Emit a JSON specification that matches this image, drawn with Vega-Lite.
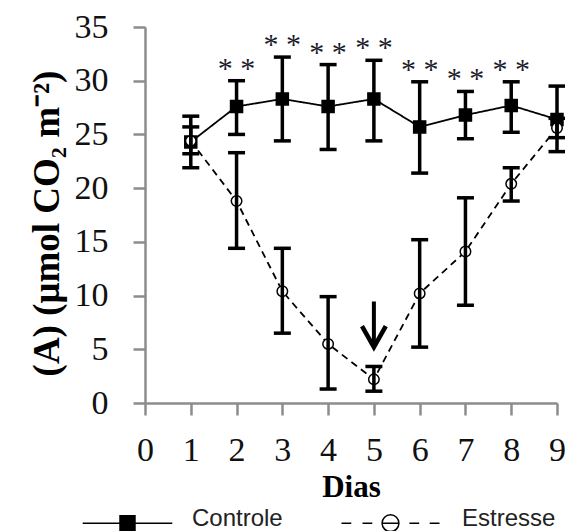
{
  "$schema": "https://vega.github.io/schema/vega-lite/v6.json",
  "width": 412,
  "height": 376,
  "autosize": {"type": "none"},
  "padding": {"left": 145, "top": 27, "right": 8, "bottom": 128},
  "background": "white",
  "config": {
    "view": {"stroke": null},
    "axis": {
      "grid": false,
      "domainColor": "#8c8c8c",
      "domainWidth": 2.5,
      "tickColor": "#8c8c8c",
      "tickWidth": 2.5,
      "tickSize": 12,
      "labelFont": "Liberation Serif",
      "labelFontSize": 34,
      "labelColor": "#111111",
      "labelFlush": false,
      "labelOverlap": false,
      "titleFont": "Liberation Serif",
      "titleFontWeight": "bold",
      "titleColor": "#000000"
    },
    "legend": {
      "title": null,
      "orient": "none",
      "padding": 0,
      "symbolSize": 196,
      "symbolStrokeWidth": 1.5,
      "symbolStrokeColor": "black",
      "symbolOpacity": 1,
      "labelFont": "Liberation Sans",
      "labelFontSize": 24,
      "labelColor": "#222222",
      "labelOffset": 52.5
    }
  },
  "datasets": {
    "medidas": [
      {"dia": 1, "serie": "Controle", "media": 24.3, "inf": 21.9, "sup": 26.7, "sig": ""},
      {"dia": 2, "serie": "Controle", "media": 27.6, "inf": 25.0, "sup": 30.0, "sig": "* *"},
      {"dia": 3, "serie": "Controle", "media": 28.3, "inf": 24.4, "sup": 32.2, "sig": "* *"},
      {"dia": 4, "serie": "Controle", "media": 27.6, "inf": 23.6, "sup": 31.5, "sig": "* *"},
      {"dia": 5, "serie": "Controle", "media": 28.3, "inf": 24.4, "sup": 31.9, "sig": "* *"},
      {"dia": 6, "serie": "Controle", "media": 25.7, "inf": 21.4, "sup": 29.9, "sig": "* *"},
      {"dia": 7, "serie": "Controle", "media": 26.8, "inf": 24.6, "sup": 29.0, "sig": "* *"},
      {"dia": 8, "serie": "Controle", "media": 27.7, "inf": 25.2, "sup": 29.9, "sig": "* *"},
      {"dia": 9, "serie": "Controle", "media": 26.4, "inf": 23.4, "sup": 29.5, "sig": ""},
      {"dia": 1, "serie": "Estresse", "media": 24.4, "inf": 23.2, "sup": 25.7, "sig": ""},
      {"dia": 2, "serie": "Estresse", "media": 18.8, "inf": 14.4, "sup": 23.3, "sig": ""},
      {"dia": 3, "serie": "Estresse", "media": 10.4, "inf": 6.5, "sup": 14.4, "sig": ""},
      {"dia": 4, "serie": "Estresse", "media": 5.5, "inf": 1.3, "sup": 9.9, "sig": ""},
      {"dia": 5, "serie": "Estresse", "media": 2.2, "inf": 1.1, "sup": 3.4, "sig": ""},
      {"dia": 6, "serie": "Estresse", "media": 10.2, "inf": 5.2, "sup": 15.2, "sig": ""},
      {"dia": 7, "serie": "Estresse", "media": 14.1, "inf": 9.1, "sup": 19.1, "sig": ""},
      {"dia": 8, "serie": "Estresse", "media": 20.4, "inf": 18.8, "sup": 21.9, "sig": ""},
      {"dia": 9, "serie": "Estresse", "media": 25.6, "inf": 24.7, "sup": 26.5, "sig": ""}
    ],
    "seta": [
      {"dia": 5, "topo": 9.45, "ponta": 5.2}
    ]
  },
  "data": {"name": "medidas"},
  "encoding": {
    "x": {
      "field": "dia",
      "type": "quantitative",
      "scale": {"domain": [0, 9], "nice": false},
      "axis": {
        "values": [0, 1, 2, 3, 4, 5, 6, 7, 8, 9],
        "labelPadding": 18,
        "title": "Dias",
        "titleFontSize": 31,
        "titleBaseline": "alphabetic",
        "titleY": 93
      }
    }
  },
  "layer": [
    {
      "mark": {"type": "line", "color": "black", "strokeWidth": 1.8},
      "encoding": {
        "y": {
          "field": "media",
          "type": "quantitative",
          "scale": {"domain": [0, 35], "nice": false},
          "axis": {
            "values": [0, 5, 10, 15, 20, 25, 30, 35],
            "labelPadding": 25,
            "title": "(A) (μmol CO₂ m⁻²)",
            "titleFontSize": 37,
            "titleAngle": -90,
            "titleAlign": "center",
            "titleBaseline": "alphabetic",
            "titleX": -87,
            "titleY": 196
          }
        },
        "strokeDash": {
          "field": "serie",
          "type": "nominal",
          "scale": {"domain": ["Controle", "Estresse"], "range": [[1, 0], [7, 5]]},
          "legend": null
        }
      }
    },
    {
      "transform": [{"filter": "datum.serie === 'Controle'"}],
      "mark": {"type": "point", "shape": "square", "size": 144, "filled": true, "stroke": "black", "strokeWidth": 1.5, "opacity": 1},
      "encoding": {
        "y": {"field": "media", "type": "quantitative"},
        "fill": {
          "field": "serie",
          "type": "nominal",
          "scale": {"domain": ["Controle"], "range": ["black"]},
          "legend": {
            "legendX": -29.5,
            "legendY": 480,
            "symbolType": "M-6.4,0.6H6.4M-1.07,-0.47H1.07V1.67H-1.07Z"
          }
        }
      }
    },
    {
      "transform": [{"filter": "datum.serie === 'Estresse'"}],
      "mark": {"type": "point", "shape": "circle", "size": 110, "filled": true, "fill": "white", "strokeWidth": 1.5, "opacity": 1},
      "encoding": {
        "y": {"field": "media", "type": "quantitative"},
        "stroke": {
          "field": "serie",
          "type": "nominal",
          "scale": {"domain": ["Estresse"], "range": ["black"]},
          "legend": {
            "legendX": 240.5,
            "legendY": 480,
            "symbolFillColor": "white",
            "symbolType": "M-8,0.6H-6.6M-5,0.6H-3.6M-2.2,0.6A1.2,1.2 0 1,0 0.2,0.6A1.2,1.2 0 1,0 -2.2,0.6M-2.2,0.6H0.2M1.7,0.6H3.1M4.6,0.6H6"
          }
        }
      }
    },
    {
      "mark": {"type": "rule", "color": "black", "strokeWidth": 3.5},
      "encoding": {
        "y": {"field": "inf", "type": "quantitative"},
        "y2": {"field": "sup"}
      }
    },
    {
      "mark": {"type": "tick", "orient": "horizontal", "color": "black", "size": 17, "thickness": 3.5, "opacity": 1},
      "encoding": {"y": {"field": "inf", "type": "quantitative"}}
    },
    {
      "mark": {"type": "tick", "orient": "horizontal", "color": "black", "size": 17, "thickness": 3.5, "opacity": 1},
      "encoding": {"y": {"field": "sup", "type": "quantitative"}}
    },
    {
      "transform": [{"filter": "datum.sig !== ''"}],
      "mark": {"type": "text", "font": "Liberation Serif", "fontSize": 30, "baseline": "alphabetic", "dy": -3, "color": "#1c1c2c"},
      "encoding": {
        "y": {"field": "sup", "type": "quantitative"},
        "text": {"field": "sig"}
      }
    },
    {
      "data": {"name": "seta"},
      "mark": {"type": "rule", "color": "black", "strokeWidth": 4},
      "encoding": {
        "y": {"field": "topo", "type": "quantitative"},
        "y2": {"field": "ponta"}
      }
    },
    {
      "data": {"name": "seta"},
      "mark": {"type": "point", "shape": "M-1.7,-3L0,0L1.7,-3", "size": 196, "filled": false, "color": "black", "strokeWidth": 4.5, "strokeJoin": "miter", "opacity": 1},
      "encoding": {"y": {"field": "ponta", "type": "quantitative"}}
    }
  ]
}
